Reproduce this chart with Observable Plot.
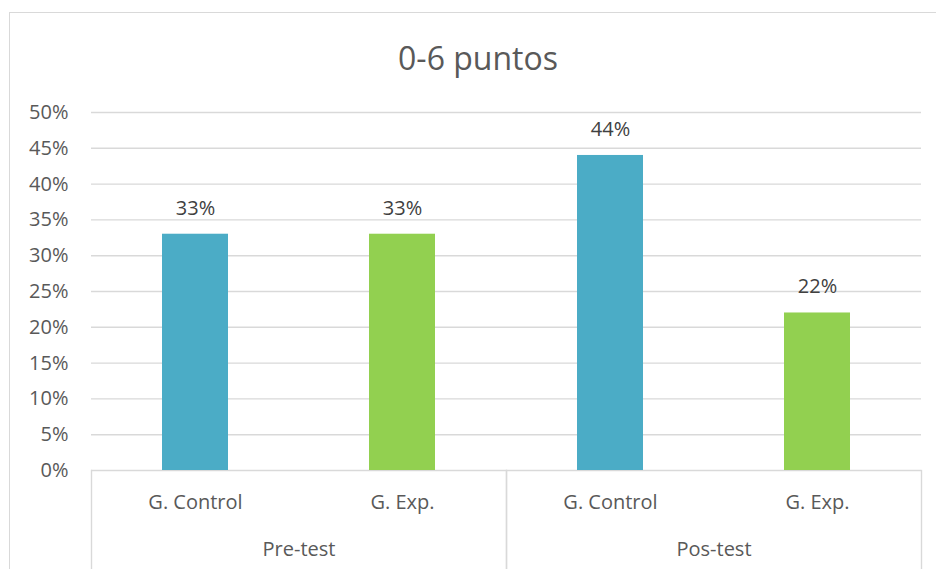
<!DOCTYPE html>
<html>
<head>
<meta charset="utf-8">
<script src="https://cdn.jsdelivr.net/npm/d3@7"></script>
<script src="https://cdn.jsdelivr.net/npm/@observablehq/plot@0.6"></script>
<style>
  html, body { margin: 0; padding: 0; background: #fff; }
  #wrap { position: relative; width: 936px; height: 569px; overflow: hidden; font-family: "Open Sans", sans-serif; }
  #border { position: absolute; left: 9px; top: 12px; width: 1000px; height: 700px; border-left: 1.5px solid #d9d9d9; border-top: 1.5px solid #d9d9d9; box-sizing: border-box; }
  #title { position: absolute; left: 0; width: 956px; top: 36px; text-align: center; font-size: 32px; color: #595959; line-height: 44px; }
  #chart { position: absolute; left: 0; top: 0; }
</style>
</head>
<body>
<div id="wrap">
  <div id="border"></div>
  <div id="title">0-6 puntos</div>
  <div id="chart"></div>
</div>
<script>
const title = "0-6 puntos";
const groups = ["Pre-test", "Pre-test", "Pos-test", "Pos-test"];
const categories = ["G. Control", "G. Exp.", "G. Control", "G. Exp."];
const values = [0.33, 0.33, 0.44, 0.22];
const groupOrder = ["Pre-test", "Pos-test"];
const categoryOrder = ["G. Control", "G. Exp."];
const seriesColors = ["#4BACC6", "#92D050"];
const yTicks = [0, 0.05, 0.10, 0.15, 0.20, 0.25, 0.30, 0.35, 0.40, 0.45, 0.50];

const data = values.map((v, i) => ({group: groups[i], category: categories[i], value: v}));
const pct = d => Math.round(d * 100) + "%";

const plotH = 569 - 112 - 99;

const chart = Plot.plot({
  width: 936,
  height: 569,
  marginLeft: 90,
  marginRight: 15,
  marginTop: 112,
  marginBottom: 99,
  style: {fontFamily: "Open Sans, sans-serif", fontSize: "20px", color: "#595959", background: "transparent", overflow: "visible"},
  fx: {domain: groupOrder, padding: 0, label: null},
  x: {domain: categoryOrder, paddingInner: 0.682, paddingOuter: 0.341, label: null},
  y: {domain: [0, 0.5], label: null},
  color: {domain: categoryOrder, range: seriesColors},
  marks: [
    Plot.gridY(yTicks, {stroke: "#d9d9d9", strokeOpacity: 1, strokeWidth: 1.4}),
    Plot.frame({anchor: "left", stroke: "#d9d9d9", strokeWidth: 1.4, insetTop: plotH, insetBottom: -110}),
    Plot.frame({anchor: "right", stroke: "#d9d9d9", strokeWidth: 1.4, insetTop: plotH, insetBottom: -110}),
    Plot.barY(data, {fx: "group", x: "category", y: "value", fill: "category"}),
    Plot.text(data, {fx: "group", x: "category", y: "value", text: d => pct(d.value), dy: -26, fill: "#404040", fontSize: 20}),
    Plot.axisY(yTicks, {tickSize: 0, tickPadding: 23, tickFormat: pct, fill: "#595959", fontSize: 20, label: null}),
    Plot.axisX({tickSize: 0, tickPadding: 24, fill: "#595959", fontSize: 20, label: null}),
    Plot.axisFx({anchor: "bottom", tickSize: 0, tickPadding: 71, fill: "#595959", fontSize: 20, label: null})
  ]
});
document.getElementById("chart").appendChild(chart);
</script>
</body>
</html>
